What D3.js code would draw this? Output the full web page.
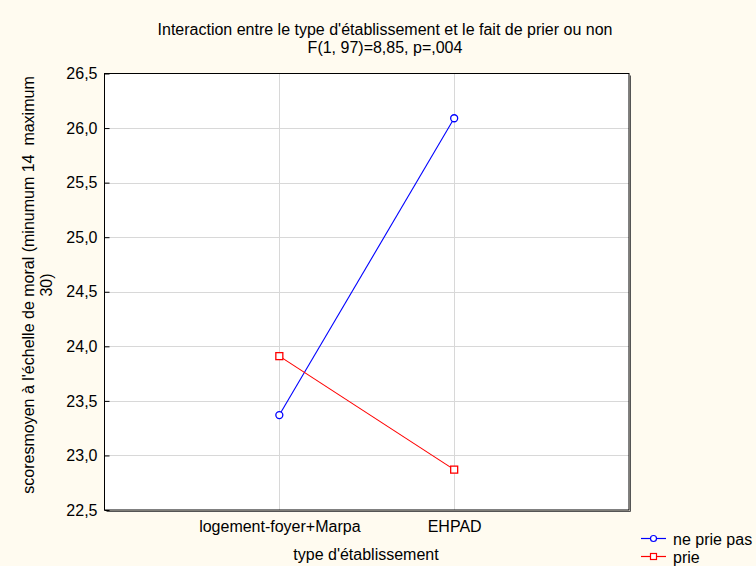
<!DOCTYPE html>
<html>
<head>
<meta charset="utf-8">
<script src="https://cdn.jsdelivr.net/npm/d3@7"></script>
<style>
  html, body { margin: 0; padding: 0; background: #fffbf0; }
  svg { display: block; font-family: "Liberation Sans", Arial, sans-serif; }
  text { white-space: pre; }
</style>
</head>
<body>
<svg id="chart" width="756" height="566"></svg>
<script>
// données
const categories = ['logement-foyer+Marpa', 'EHPAD'];
const nePriePas = [23.37, 26.09];
const prie = [23.91, 22.87];
const yTicks = [22.5, 23.0, 23.5, 24.0, 24.5, 25.0, 25.5, 26.0, 26.5];
const titleLines = ["Interaction entre le type d'établissement et le fait de prier ou non", 'F(1, 97)=8,85, p=,004'];
const yLabelLines = ["scoresmoyen à l'échelle de moral (minumum 14  maximum", '30)'];
const xLabel = "type d'établissement";
const seriesNames = ['ne prie pas', 'prie'];

const svg = d3.select('#chart');
const plotLeft = 104.5, plotRight = 629, plotTop = 73.5, plotBottom = 510;
const fontSize = 16;

const x = d3.scalePoint().domain(categories).range([plotLeft, plotRight]).padding(1);
const y = d3.scaleLinear().domain([22.5, 26.5]).range([plotBottom, plotTop]);

// zone du graphique (blanche)
svg.append('rect')
    .attr('x', plotLeft).attr('y', plotTop)
    .attr('width', plotRight - plotLeft).attr('height', plotBottom - plotTop)
    .attr('fill', '#ffffff');

// grille
const grid = svg.append('g').attr('stroke', '#d8d8d8').attr('stroke-width', 1);
yTicks.slice(1, -1).forEach(t => {
    grid.append('line')
        .attr('x1', plotLeft).attr('x2', plotRight)
        .attr('y1', Math.round(y(t)) + 0.5).attr('y2', Math.round(y(t)) + 0.5);
});
categories.forEach(c => {
    grid.append('line')
        .attr('x1', Math.round(x(c)) + 0.5).attr('x2', Math.round(x(c)) + 0.5)
        .attr('y1', plotTop).attr('y2', plotBottom);
});

// ombre du cadre
svg.append('path')
    .attr('d', `M${plotRight + 1.5},${plotTop + 2}V${plotBottom + 1.5}H${plotLeft + 2}`)
    .attr('fill', 'none').attr('stroke', '#555').attr('stroke-width', 1);

// cadre
svg.append('rect')
    .attr('x', plotLeft).attr('y', plotTop)
    .attr('width', plotRight - plotLeft).attr('height', plotBottom - plotTop)
    .attr('fill', 'none').attr('stroke', '#000').attr('stroke-width', 1);

// axe Y (graduations vers l'intérieur)
const yAxis = d3.axisLeft(y).tickValues(yTicks).tickSizeInner(-5).tickSizeOuter(0)
    .tickPadding(7).tickFormat(d => d3.format('.1f')(d).replace('.', ','));
const gy = svg.append('g').attr('transform', `translate(${plotLeft},0)`).call(yAxis);
gy.select('.domain').remove();
gy.selectAll('text').attr('font-size', fontSize).attr('fill', '#000')
    .attr('font-family', '"Liberation Sans", Arial, sans-serif');

// axe X
const xAxis = d3.axisBottom(x).tickSize(0).tickPadding(11);
const gx = svg.append('g').attr('transform', `translate(0,${plotBottom})`).call(xAxis);
gx.select('.domain').remove();
gx.selectAll('text').attr('font-size', fontSize).attr('fill', '#000')
    .attr('font-family', '"Liberation Sans", Arial, sans-serif');

// titre
svg.append('text')
    .attr('x', 385).attr('y', 35)
    .attr('text-anchor', 'middle').attr('font-size', fontSize)
    .selectAll('tspan').data(titleLines).join('tspan')
    .attr('x', 385).attr('dy', (d, i) => i === 0 ? 0 : 18)
    .text(d => d);

// titre axe Y
svg.append('text')
    .attr('transform', 'translate(34,285) rotate(-90)')
    .attr('text-anchor', 'middle').attr('font-size', fontSize)
    .selectAll('tspan').data(yLabelLines).join('tspan')
    .attr('x', 0).attr('dy', (d, i) => i === 0 ? 0 : 18)
    .text(d => d);

// titre axe X
svg.append('text')
    .attr('x', 366).attr('y', 560)
    .attr('text-anchor', 'middle').attr('font-size', fontSize)
    .text(xLabel);

// séries
const line = d3.line().x((d, i) => x(categories[i])).y(d => y(d));

svg.append('path').datum(nePriePas).attr('d', line)
    .attr('fill', 'none').attr('stroke', '#0000ff').attr('stroke-width', 1.1);
svg.append('path').datum(prie).attr('d', line)
    .attr('fill', 'none').attr('stroke', '#ff0000').attr('stroke-width', 1.1);

svg.append('g').selectAll('circle').data(nePriePas).join('circle')
    .attr('cx', (d, i) => x(categories[i])).attr('cy', d => y(d)).attr('r', 3.5)
    .attr('fill', '#fff').attr('stroke', '#0000ff').attr('stroke-width', 1.3);
svg.append('g').selectAll('rect').data(prie).join('rect')
    .attr('x', (d, i) => x(categories[i]) - 3.5).attr('y', d => y(d) - 3.5)
    .attr('width', 7).attr('height', 7)
    .attr('fill', '#fff').attr('stroke', '#ff0000').attr('stroke-width', 1.3);

// légende
const legend = svg.append('g');
const legY = [538.5, 556.5];
legend.append('line').attr('x1', 641).attr('x2', 666).attr('y1', legY[0]).attr('y2', legY[0])
    .attr('stroke', '#0000ff').attr('stroke-width', 1.2);
legend.append('circle').attr('cx', 653.5).attr('cy', legY[0]).attr('r', 3)
    .attr('fill', '#fff').attr('stroke', '#0000ff').attr('stroke-width', 1.2);
legend.append('line').attr('x1', 641).attr('x2', 666).attr('y1', legY[1]).attr('y2', legY[1])
    .attr('stroke', '#ff0000').attr('stroke-width', 1.2);
legend.append('rect').attr('x', 650.5).attr('y', legY[1] - 3).attr('width', 6).attr('height', 6)
    .attr('fill', '#fff').attr('stroke', '#ff0000').attr('stroke-width', 1.2);
legend.selectAll('text').data(seriesNames).join('text')
    .attr('x', 673).attr('y', (d, i) => legY[i] + 6)
    .attr('font-size', fontSize).text(d => d);
</script>
</body>
</html>
